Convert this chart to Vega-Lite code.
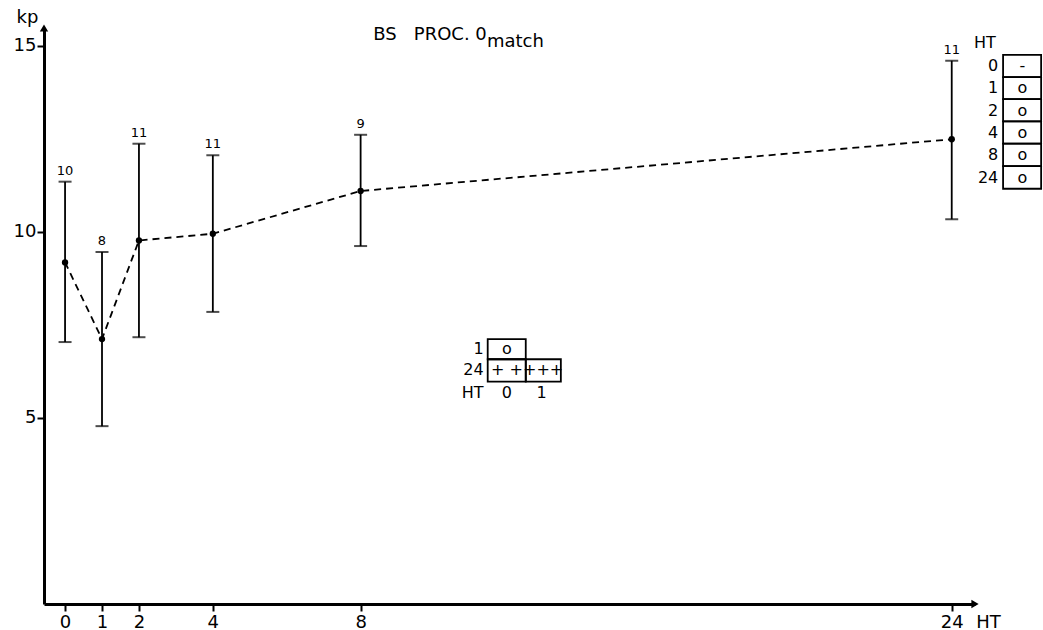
{
  "$schema": "https://vega.github.io/schema/vega-lite/v6.json",
  "width": 931,
  "height": 576,
  "autosize": {"type": "none"},
  "padding": {"left": 44, "top": 28, "right": 68, "bottom": 26},
  "background": "white",
  "config": {
    "view": {"stroke": null},
    "font": "DejaVu Sans",
    "axis": {
      "grid": false,
      "domainColor": "black",
      "domainWidth": 3,
      "tickColor": "black",
      "tickWidth": 2,
      "tickSize": 7,
      "labelColor": "black",
      "labelFont": "DejaVu Sans",
      "labelFontSize": 18,
      "titleFont": "DejaVu Sans",
      "titleFontSize": 18,
      "titleFontWeight": "normal",
      "titleColor": "black"
    },
    "text": {"color": "black"}
  },
  "datasets": {
    "main": [
      {"x": 0, "y": 9.18, "lo": 7.04, "hi": 11.35, "n": "10"},
      {"x": 1, "y": 7.12, "lo": 4.78, "hi": 9.46, "n": "8"},
      {"x": 2, "y": 9.77, "lo": 7.17, "hi": 12.37, "n": "11"},
      {"x": 4, "y": 9.95, "lo": 7.85, "hi": 12.06, "n": "11"},
      {"x": 8, "y": 11.1, "lo": 9.62, "hi": 12.61, "n": "9"},
      {"x": 24, "y": 12.49, "lo": 10.34, "hi": 14.6, "n": "11"}
    ],
    "boxes": [
      {"x": 25.39, "x2": 26.42, "y": 14.76, "y2": 14.16},
      {"x": 25.39, "x2": 26.42, "y": 14.16, "y2": 13.57},
      {"x": 25.39, "x2": 26.42, "y": 13.57, "y2": 12.97},
      {"x": 25.39, "x2": 26.42, "y": 12.97, "y2": 12.37},
      {"x": 25.39, "x2": 26.42, "y": 12.37, "y2": 11.77},
      {"x": 25.39, "x2": 26.42, "y": 11.77, "y2": 11.16},
      {"x": 11.44, "x2": 12.47, "y": 7.116, "y2": 6.578},
      {"x": 11.44, "x2": 12.47, "y": 6.578, "y2": 5.976},
      {"x": 12.47, "x2": 13.42, "y": 6.578, "y2": 5.976}
    ],
    "labelsRight": [
      {"x": 25.26, "y": 14.46, "t": "0"},
      {"x": 25.26, "y": 13.86, "t": "1"},
      {"x": 25.26, "y": 13.26, "t": "2"},
      {"x": 25.26, "y": 12.66, "t": "4"},
      {"x": 25.26, "y": 12.06, "t": "8"},
      {"x": 25.26, "y": 11.46, "t": "24"},
      {"x": 11.33, "y": 6.85, "t": "1"},
      {"x": 11.33, "y": 6.28, "t": "24"},
      {"x": 11.33, "y": 5.67, "t": "HT"}
    ],
    "labelsCenter": [
      {"x": 24.9, "y": 15.08, "t": "HT"},
      {"x": 25.91, "y": 14.46, "t": "-"},
      {"x": 25.91, "y": 13.86, "t": "o"},
      {"x": 25.91, "y": 13.26, "t": "o"},
      {"x": 25.91, "y": 12.66, "t": "o"},
      {"x": 25.91, "y": 12.06, "t": "o"},
      {"x": 25.91, "y": 11.46, "t": "o"},
      {"x": 11.96, "y": 6.85, "t": "o"},
      {"x": 11.96, "y": 6.28, "t": "+ +"},
      {"x": 12.94, "y": 6.28, "t": "+++"},
      {"x": 11.96, "y": 5.67, "t": "0"},
      {"x": 12.9, "y": 5.67, "t": "1"}
    ],
    "title": [
      {"x": 8.34, "y": 15.16, "t": "BS\u00a0\u00a0\u00a0PROC.\u00a00"},
      {"x": 11.42, "y": 14.97, "t": "match"}
    ],
    "arrows": [
      {"x": 24.63, "y": 0, "dir": "x"},
      {"x": -0.57, "y": 15.48, "dir": "y"}
    ]
  },
  "encoding": {
    "x": {
      "field": "x",
      "type": "quantitative",
      "scale": {"domain": [-0.57, 24.63], "nice": false, "zero": false},
      "axis": {
        "values": [0, 1, 2, 4, 8, 24],
        "labelPadding": 2,
        "title": "HT",
        "titleX": 944,
        "titleY": 18,
        "titleAlign": "center",
        "titleBaseline": "middle"
      }
    },
    "y": {
      "field": "y",
      "type": "quantitative",
      "scale": {"domain": [0, 15.48], "nice": false, "zero": false},
      "axis": {
        "values": [5, 10, 15],
        "labelPadding": 1,
        "title": "kp",
        "titleAngle": 0,
        "titleX": -17,
        "titleY": -6,
        "titleAlign": "center",
        "titleBaseline": "alphabetic"
      }
    }
  },
  "layer": [
    {
      "data": {"name": "main"},
      "mark": {"type": "line", "color": "black", "strokeWidth": 1.8, "strokeDash": [7, 5]},
      "encoding": {}
    },
    {
      "data": {"name": "main"},
      "mark": {"type": "point", "filled": true, "color": "black", "size": 40, "opacity": 1},
      "encoding": {}
    },
    {
      "data": {"name": "main"},
      "mark": {"type": "rule", "color": "black", "strokeWidth": 1.8},
      "encoding": {
        "y": {"field": "lo", "type": "quantitative", "scale": {"domain": [0, 15.48], "nice": false, "zero": false},
          "axis": {"values": [5, 10, 15], "labelPadding": 1, "title": "kp", "titleAngle": 0, "titleX": -17, "titleY": -6, "titleAlign": "center", "titleBaseline": "alphabetic"}},
        "y2": {"field": "hi"}
      }
    },
    {
      "data": {"name": "main"},
      "mark": {"type": "tick", "orient": "horizontal", "color": "black", "size": 13, "thickness": 2},
      "encoding": {
        "y": {"field": "lo", "type": "quantitative", "scale": {"domain": [0, 15.48], "nice": false, "zero": false},
          "axis": {"values": [5, 10, 15], "labelPadding": 1, "title": "kp", "titleAngle": 0, "titleX": -17, "titleY": -6, "titleAlign": "center", "titleBaseline": "alphabetic"}}
      }
    },
    {
      "data": {"name": "main"},
      "mark": {"type": "tick", "orient": "horizontal", "color": "black", "size": 13, "thickness": 2},
      "encoding": {
        "y": {"field": "hi", "type": "quantitative", "scale": {"domain": [0, 15.48], "nice": false, "zero": false},
          "axis": {"values": [5, 10, 15], "labelPadding": 1, "title": "kp", "titleAngle": 0, "titleX": -17, "titleY": -6, "titleAlign": "center", "titleBaseline": "alphabetic"}}
      }
    },
    {
      "data": {"name": "main"},
      "mark": {"type": "text", "fontSize": 13, "baseline": "bottom", "align": "center", "dy": -4},
      "encoding": {
        "y": {"field": "hi", "type": "quantitative", "scale": {"domain": [0, 15.48], "nice": false, "zero": false},
          "axis": {"values": [5, 10, 15], "labelPadding": 1, "title": "kp", "titleAngle": 0, "titleX": -17, "titleY": -6, "titleAlign": "center", "titleBaseline": "alphabetic"}},
        "text": {"field": "n"}
      }
    },
    {
      "data": {"name": "boxes"},
      "mark": {"type": "rect", "fill": null, "fillOpacity": 0, "stroke": "black", "strokeWidth": 1.8},
      "encoding": {
        "x2": {"field": "x2"},
        "y2": {"field": "y2"}
      }
    },
    {
      "data": {"name": "labelsRight"},
      "mark": {"type": "text", "fontSize": 16, "align": "right", "baseline": "middle"},
      "encoding": {"text": {"field": "t"}}
    },
    {
      "data": {"name": "labelsCenter"},
      "mark": {"type": "text", "fontSize": 16, "align": "center", "baseline": "middle"},
      "encoding": {"text": {"field": "t"}}
    },
    {
      "data": {"name": "title"},
      "mark": {"type": "text", "fontSize": 18, "align": "left", "baseline": "alphabetic"},
      "encoding": {"text": {"field": "t"}}
    },
    {
      "data": {"name": "arrows"},
      "mark": {"type": "point", "filled": true, "color": "black", "size": 70, "opacity": 1},
      "encoding": {
        "shape": {"field": "dir", "type": "nominal", "scale": {"domain": ["x", "y"], "range": ["triangle-right", "triangle-up"]}, "legend": null}
      }
    }
  ]
}
